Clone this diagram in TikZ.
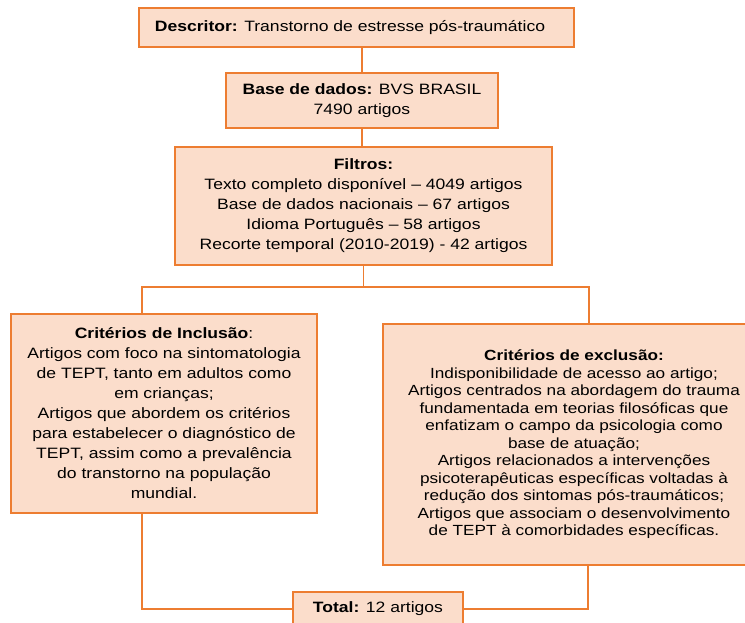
\documentclass[tikz,border=0pt]{standalone}
\usepackage{fontspec}
\setmainfont[FakeStretch=1.17]{Liberation Sans}
\usetikzlibrary{positioning}
\definecolor{boxfill}{HTML}{FBDDCB}
\definecolor{boxline}{HTML}{ED7D31}

\begin{document}
\begin{tikzpicture}[x=1pt,y=-1pt,every node/.style={font=\fontsize{15}{20}\selectfont},
  flowbox/.style={draw=boxline,fill=boxfill,line width=1.6pt,align=center,inner sep=0pt},
  link/.style={draw=boxline,line width=1.6pt}]
\useasboundingbox (0,0) rectangle (745,623);
\clip (0,0) rectangle (745,623);
\node[flowbox,minimum width=435pt,minimum height=39pt] (desc) at (356.5,27.5) {\textbf{Descritor:} Transtorno de estresse pós-traumático\hspace*{13pt}};
\node[flowbox,minimum width=272pt,minimum height=55pt] (base) at (362,100.5) {\textbf{Base de dados:} BVS BRASIL\\7490 artigos};
\node[flowbox,minimum width=377pt,minimum height=118pt] (filt) at (363.5,206) {\textbf{Filtros:}\\Texto completo disponível -- 4049 artigos\\Base de dados nacionais -- 67 artigos\\Idioma Português -- 58 artigos\\Recorte temporal (2010-2019) - 42 artigos};
\node[flowbox,minimum width=306pt,minimum height=199pt] (incl) at (164,413.5) {\textbf{Critérios de Inclusão}:\\Artigos com foco na sintomatologia\\de TEPT, tanto em adultos como\\em crianças;\\Artigos que abordem os critérios\\para estabelecer o diagnóstico de\\TEPT, assim como a prevalência\\do transtorno na população\\mundial.};
\node[flowbox,minimum width=382pt,minimum height=241pt,font=\fontsize{14.7}{17.5}\selectfont] (excl) at (574,444.5) {\textbf{Critérios de exclusão:}\\Indisponibilidade de acesso ao artigo;\\Artigos centrados na abordagem do trauma\\fundamentada em teorias filosóficas que\\enfatizam o campo da psicologia como\\base de atuação;\\Artigos relacionados a intervenções\\psicoterapêuticas específicas voltadas à\\redução dos sintomas pós-traumáticos;\\Artigos que associam o desenvolvimento\\de TEPT à comorbidades específicas.};
\node[flowbox,minimum width=170pt,minimum height=34pt] (total) at (378,609) {\textbf{Total:} 12 artigos};
\coordinate (fork) at (367,287);
\draw[link] (desc.south -| base.north) -- (base.north);
\draw[link] (base.south) -- (base.south |- filt.north);
\draw[link] (filt.south) |- (fork);
\draw[link] ([xshift=-22pt]incl.north) |- (fork) -| ([xshift=15pt]excl.north);
\draw[link] ([xshift=-22pt]incl.south) |- (total.west);
\draw[link] ([xshift=14pt]excl.south) |- (total.east);
\end{tikzpicture}
\end{document}
